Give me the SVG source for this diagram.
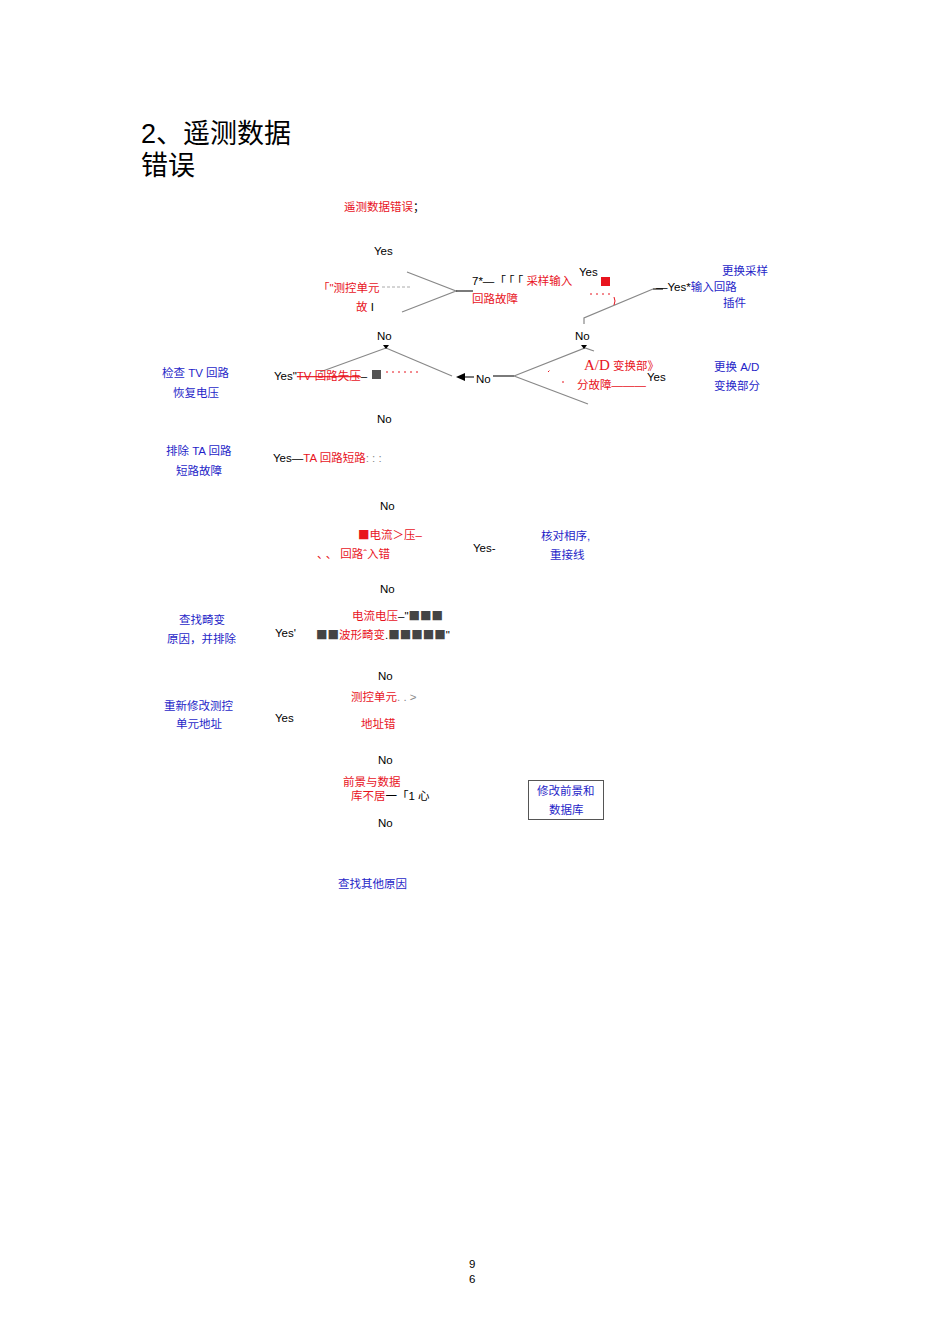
<svg xmlns="http://www.w3.org/2000/svg" width="950" height="1344" viewBox="0 0 950 1344">
<style>
text{font-family:"Liberation Sans","Noto Sans CJK SC",sans-serif;font-size:11.5px}
.t{font-size:27px;fill:#000}
.r{fill:#e8141e}
.b{fill:#1f1fc8}
.k{fill:#000}
.g{fill:#888}
.sq{font-family:"Noto Sans CJK SC",sans-serif;fill:#444}
.cj{font-family:"Noto Sans CJK SC",sans-serif}
.ln{stroke:#888;stroke-width:1.2;fill:none}
.dk{stroke:#222;stroke-width:1.2;fill:none}
.ds{stroke:#aaa;stroke-width:1;fill:none;stroke-dasharray:3 2}
.rd{stroke:#e8141e;stroke-width:1;fill:none;stroke-dasharray:2 4}
</style>
<rect width="950" height="1344" fill="#fff"/>
<g id="title">
<text class="t" x="141" y="143">2、遥测数据</text>
<text class="t" x="141" y="175">错误</text>
</g>
<g id="start"><text class="r" x="344" y="211">遥测数据错误<tspan class="k">；</tspan></text></g>
<g id="connectors">
<path class="ln" d="M407 272 L456 291 L402 312"/>
<path class="dk" d="M456 291 H473"/>
<path class="ds" d="M382 287 H410"/>
<path class="ln" d="M584 324 V318 L653 289"/>
<path class="dk" d="M653 289 H663"/>
<path class="rd" d="M590 294 H612"/>
<path d="M614 297 q2 4 0 8" stroke="#e8141e" fill="none"/>
<path class="ln" d="M386 348 L320 372"/>
<path class="ln" d="M386 348 L452 376"/>
<path fill="#000" d="M383 345 h6 l-3 4 z"/>
<path fill="#000" d="M456 377 l9 -4 v8 z"/>
<path class="dk" d="M465 377 H474"/>
<path class="dk" d="M493 376 H514"/>
<path class="ln" d="M514 376 L585 348 L594 351"/>
<path class="ln" d="M514 376 L588 404"/>
<path fill="#000" d="M581 345 h6 l-3 4 z"/>
<path class="rd" d="M386 372 H420"/>
<path class="rd" d="M548 372 l3 -3 M562 382 h2"/>
</g>
<g id="n1"><text class="k" x="374" y="255">Yes</text></g>
<g id="n2">
<text class="r" x="318" y="292"><tspan class="cj">「</tspan>"测控单元</text>
<text class="r" x="356" y="311">故<tspan class="k"> I</tspan></text>
</g>
<g id="n3">
<text class="k" x="472" y="285">7*—<tspan class="cj" letter-spacing="3">「「「</tspan><tspan class="r">采样输入</tspan></text>
<text class="r" x="472" y="303">回路故障</text>
<text class="k" x="579" y="276">Yes</text>
<rect x="601" y="277" width="9" height="9" fill="#e8141e"/>
</g>
<g id="n4">
<text class="k" x="656" y="291">—Yes*<tspan class="b">输入回路</tspan></text>
<text class="b" x="722" y="275">更换采样</text>
<text class="b" x="723" y="307">插件</text>
</g>
<g id="n5">
<text class="k" x="575" y="340">No</text>
<text class="r" x="584" y="370"><tspan font-family="Liberation Serif, serif" font-size="15">A/D</tspan> 变换部》</text>
<text class="r" x="577" y="389">分故障———</text>
<text class="k" x="647" y="381">Yes</text>
<text class="b" x="714" y="371">更换 A/D</text>
<text class="b" x="714" y="390">变换部分</text>
</g>
<g id="n6">
<text class="k" x="476" y="383">No</text>
<text class="k" x="377" y="340">No</text>
<text class="k" x="274" y="380">Yes"<tspan class="r" text-decoration="line-through">TV 回路失压</tspan>–</text>
<rect x="372" y="370" width="9" height="9" fill="#555"/>
<text class="b" x="162" y="377">检查 TV 回路</text>
<text class="b" x="173" y="397">恢复电压</text>
</g>
<g id="n7">
<text class="k" x="377" y="423">No</text>
<text class="k" x="273" y="462">Yes—<tspan class="r">TA 回路短路</tspan><tspan class="g">: : :</tspan></text>
<text class="b" x="166" y="455">排除 TA 回路</text>
<text class="b" x="176" y="475">短路故障</text>
</g>
<g id="n8">
<text class="k" x="380" y="510">No</text>
<text class="r" x="358" y="539"><tspan class="cj">■</tspan>电流＞压–</text>
<text class="r" x="317" y="558"><tspan class="cj" letter-spacing="3">、、</tspan>回路ˆ入错</text>
<text class="k" x="473" y="552">Yes-</text>
<text class="b" x="541" y="540">核对相序,</text>
<text class="b" x="550" y="559">重接线</text>
</g>
<g id="n9">
<text class="k" x="380" y="593">No</text>
<text class="r" x="352" y="620">电流电压<tspan class="k">–"</tspan><tspan class="sq">■■■</tspan></text>
<text class="r" x="316" y="639"><tspan class="sq">■■</tspan>波形畸变<tspan class="k">.</tspan><tspan class="sq">■■■■■</tspan><tspan class="k">"</tspan></text>
<text class="k" x="275" y="637">Yes'</text>
<text class="b" x="179" y="624">查找畸变</text>
<text class="b" x="167" y="643">原因，并排除</text>
</g>
<g id="n10">
<text class="k" x="378" y="680">No</text>
<text class="r" x="351" y="701">测控单元<tspan class="g">. . &gt;</tspan></text>
<text class="r" x="361" y="728">地址错</text>
<text class="k" x="275" y="722">Yes</text>
<text class="b" x="164" y="710">重新修改测控</text>
<text class="b" x="176" y="728">单元地址</text>
</g>
<g id="n11">
<text class="k" x="378" y="764">No</text>
<text class="r" x="343" y="786">前景与数据</text>
<text class="r" x="351" y="800">库不居<tspan class="k">一<tspan class="cj">「</tspan>1 心</tspan></text>
<rect x="528.5" y="780.5" width="75" height="39" fill="none" stroke="#555" stroke-width="1"/>
<text class="b" x="537" y="795">修改前景和</text>
<text class="b" x="549" y="814">数据库</text>
<text class="k" x="378" y="827">No</text>
</g>
<g id="n12"><text class="b" x="338" y="888">查找其他原因</text></g>
<g id="page">
<text class="k" x="469" y="1268">9</text>
<text class="k" x="469" y="1283">6</text>
</g>
</svg>
